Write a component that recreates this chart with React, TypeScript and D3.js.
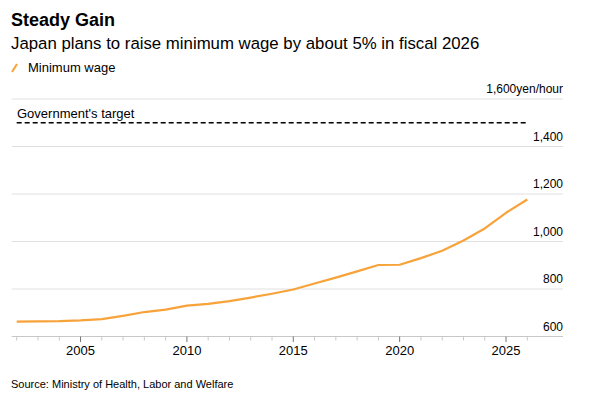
import React from "react";
import * as d3 from "d3";

const years = [
  2002, 2003, 2004, 2005, 2006, 2007, 2008, 2009, 2010, 2011, 2012, 2013,
  2014, 2015, 2016, 2017, 2018, 2019, 2020, 2021, 2022, 2023, 2024, 2025,
  2026,
];
const minimumWage = [
  663, 664, 665, 668, 673, 687, 703, 713, 730, 737, 749, 764, 780, 798, 823,
  848, 874, 901, 902, 930, 961, 1004, 1055, 1121, 1177,
];
const governmentTarget = 1500;
const yTicks = [600, 800, 1000, 1200, 1400, 1600];
const xLabelYears = [2005, 2010, 2015, 2020, 2025];

const W = 604;
const H = 402;
const FONT = "'Liberation Sans', Arial, sans-serif";
const ORANGE = "#f8a23a";

export default function App() {
  const left = 11.7;
  const right = 563;
  const x = d3.scaleLinear().domain([2002, 2026]).range([16.7, 527.3]);
  const y = d3.scaleLinear().domain([600, 1600]).range([336.5, 99]);

  const points = years.map((yr, i) => [yr, minimumWage[i]] as [number, number]);
  const line = d3
    .line<[number, number]>()
    .x((d) => x(d[0]))
    .y((d) => y(d[1]));

  const firstYear = years[0];
  const lastYear = years[years.length - 1];

  return (
    <div style={{ position: "fixed", left: 0, top: 0 }}>
      <svg width={W} height={H} style={{ display: "block", background: "#fff" }} fontFamily={FONT}>
        {/* header */}
        <text x={11} y={26} fontSize={18} fontWeight="bold" fill="#000">
          Steady Gain
        </text>
        <text x={11} y={48.5} fontSize={16.8} fill="#000">
          Japan plans to raise minimum wage by about 5% in fiscal 2026
        </text>
        <line x1={12} y1={72} x2={17} y2={64} stroke={ORANGE} strokeWidth={2} />
        <text x={28} y={72} fontSize={13} fill="#000">
          Minimum wage
        </text>

        {/* gridlines + y labels */}
        {yTicks.slice(1).map((t) => (
          <line key={t} x1={left} x2={right} y1={y(t)} y2={y(t)} stroke="#e0e0e0" strokeWidth={1} />
        ))}
        {yTicks.map((t) => (
          <text key={t} x={right} y={y(t) - 6} fontSize={12} textAnchor="end" fill="#000">
            {t === 1600 ? "1,600yen/hour" : d3.format(",")(t)}
          </text>
        ))}

        {/* target */}
        <line
          x1={x(firstYear)}
          x2={x(lastYear)}
          y1={y(governmentTarget)}
          y2={y(governmentTarget)}
          stroke="#000"
          strokeWidth={1.6}
          strokeDasharray="5,3"
        />
        <text x={17} y={117.5} fontSize={13} fill="#000">
          Government's target
        </text>

        {/* x axis */}
        <line x1={left} x2={right} y1={y(600)} y2={y(600)} stroke="#c8c8c8" strokeWidth={1} />
        {years.map((yr) => {
          const major = yr % 5 === 0;
          return (
            <line
              key={yr}
              x1={x(yr)}
              x2={x(yr)}
              y1={y(600)}
              y2={y(600) + (major ? 5.5 : 4)}
              stroke={major ? "#777" : "#c8c8c8"}
              strokeWidth={1}
            />
          );
        })}
        {xLabelYears.map((yr) => (
          <text key={yr} x={x(yr)} y={355} fontSize={13} textAnchor="middle" fill="#000">
            {yr}
          </text>
        ))}

        {/* series */}
        <path d={line(points) ?? ""} fill="none" stroke={ORANGE} strokeWidth={2.2} strokeLinejoin="round" />

        <text x={11} y={388} fontSize={11} fill="#000">
          Source: Ministry of Health, Labor and Welfare
        </text>
      </svg>
    </div>
  );
}
